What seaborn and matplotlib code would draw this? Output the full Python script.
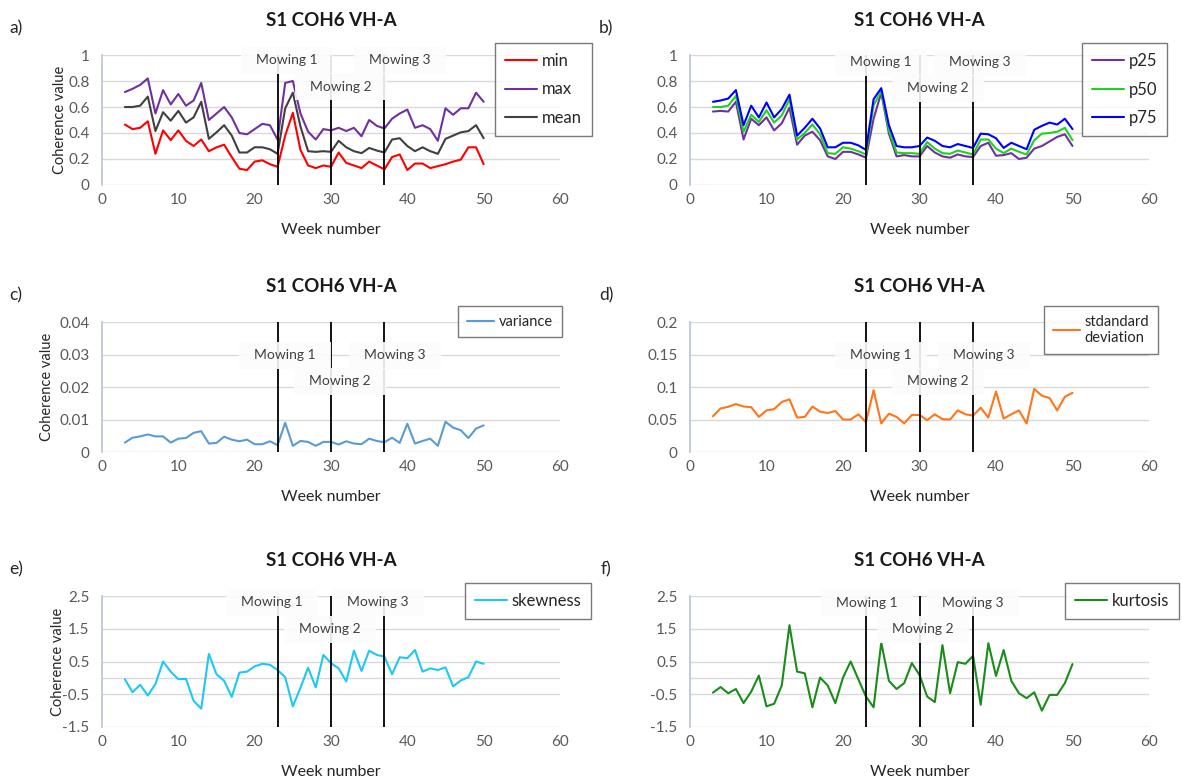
import numpy as np
import matplotlib.pyplot as plt
import seaborn as sns
import pandas as pd
from matplotlib.patches import Rectangle

sns.set_theme(style="white")
plt.rcParams['font.family'] = ['Lato', 'DejaVu Sans']

# Datos (semanas 3 a 50)
weeks = list(range(3, 51))

min_vals = [0.465, 0.43, 0.44, 0.49, 0.24, 0.42, 0.345, 0.42, 0.34, 0.30, 0.35, 0.26,
            0.29, 0.31, 0.215, 0.125, 0.115, 0.18, 0.19, 0.16, 0.14, 0.38, 0.555,
            0.27, 0.15, 0.13, 0.15, 0.14, 0.25, 0.17, 0.15, 0.13, 0.18, 0.15, 0.12,
            0.215, 0.235, 0.115, 0.165, 0.165, 0.13, 0.145, 0.16, 0.18, 0.195, 0.29, 0.29, 0.16]
max_vals = [0.715, 0.74, 0.77, 0.82, 0.55, 0.73, 0.62, 0.70, 0.61, 0.65, 0.785, 0.50,
            0.55, 0.60, 0.52, 0.40, 0.39, 0.43, 0.47, 0.46, 0.35, 0.785, 0.80,
            0.55, 0.41, 0.35, 0.43, 0.42, 0.44, 0.415, 0.44, 0.375, 0.50, 0.455, 0.435,
            0.51, 0.55, 0.58, 0.44, 0.46, 0.43, 0.34, 0.59, 0.54, 0.59, 0.59, 0.71, 0.64]
mean_vals = [0.60, 0.60, 0.61, 0.68, 0.415, 0.56, 0.495, 0.57, 0.48, 0.52, 0.64, 0.355,
             0.405, 0.46, 0.38, 0.25, 0.25, 0.29, 0.29, 0.275, 0.24, 0.59, 0.71,
             0.45, 0.26, 0.255, 0.26, 0.255, 0.34, 0.29, 0.26, 0.245, 0.285, 0.265, 0.25,
             0.35, 0.36, 0.30, 0.26, 0.29, 0.26, 0.24, 0.355, 0.38, 0.405, 0.415, 0.46, 0.36]

p25 = [0.565, 0.57, 0.565, 0.64, 0.35, 0.51, 0.46, 0.52, 0.42, 0.475, 0.595, 0.31,
       0.38, 0.41, 0.345, 0.22, 0.20, 0.255, 0.255, 0.235, 0.21, 0.51, 0.71,
       0.395, 0.22, 0.23, 0.22, 0.22, 0.30, 0.25, 0.22, 0.21, 0.235, 0.22, 0.215,
       0.30, 0.325, 0.225, 0.23, 0.245, 0.20, 0.21, 0.28, 0.30, 0.335, 0.37, 0.39, 0.30]
p50 = [0.60, 0.60, 0.61, 0.685, 0.41, 0.54, 0.485, 0.575, 0.48, 0.535, 0.66, 0.35,
       0.40, 0.465, 0.39, 0.245, 0.24, 0.29, 0.28, 0.26, 0.235, 0.615, 0.72,
       0.42, 0.25, 0.245, 0.245, 0.24, 0.33, 0.28, 0.245, 0.24, 0.265, 0.25, 0.235,
       0.35, 0.35, 0.28, 0.245, 0.28, 0.255, 0.235, 0.345, 0.395, 0.40, 0.41, 0.44, 0.345]
p75 = [0.64, 0.65, 0.665, 0.73, 0.46, 0.61, 0.52, 0.635, 0.52, 0.585, 0.695, 0.38,
       0.44, 0.51, 0.435, 0.29, 0.29, 0.325, 0.325, 0.305, 0.27, 0.66, 0.745,
       0.46, 0.30, 0.29, 0.29, 0.30, 0.365, 0.34, 0.30, 0.29, 0.315, 0.30, 0.285,
       0.395, 0.39, 0.36, 0.285, 0.325, 0.30, 0.275, 0.425, 0.455, 0.48, 0.465, 0.51, 0.43]

variance = [0.0029, 0.0044, 0.0048, 0.0054, 0.0048, 0.0048, 0.0029, 0.0041, 0.0043, 0.0059,
            0.0064, 0.0026, 0.0028, 0.0047, 0.0038, 0.0033, 0.0038, 0.0024, 0.0024, 0.0033,
            0.0021, 0.0090, 0.0019,
            0.0034, 0.0031, 0.0019, 0.0031, 0.0031, 0.0023, 0.0033, 0.0026, 0.0024, 0.0041,
            0.0034, 0.0030, 0.0044, 0.0028, 0.0087, 0.0026, 0.0034, 0.0041, 0.0019, 0.0093,
            0.0075, 0.0067, 0.0043, 0.0072, 0.0082]
std_dev = [0.055, 0.067, 0.0696, 0.0737, 0.070, 0.069, 0.054, 0.064, 0.066, 0.077, 0.081,
           0.053, 0.054, 0.070, 0.062, 0.060, 0.063, 0.050, 0.050, 0.058, 0.046, 0.095, 0.044,
           0.059, 0.054, 0.044, 0.057, 0.057, 0.049, 0.058, 0.0505, 0.050, 0.064, 0.058, 0.056,
           0.068, 0.053, 0.093, 0.0515, 0.058, 0.064, 0.044, 0.097, 0.0866, 0.083, 0.064,
           0.085, 0.091]

skewness = [-0.04, -0.44, -0.21, -0.54, -0.19, 0.50, 0.19, -0.04, -0.03, -0.70, -0.94, 0.73,
            0.11, -0.09, -0.58, 0.16, 0.19, 0.35, 0.43, 0.40, 0.24, 0.02, -0.87,
            -0.30, 0.31, -0.29, 0.70, 0.45, 0.29, -0.11, 0.83, 0.21, 0.83, 0.70, 0.65,
            0.11, 0.63, 0.60, 0.85, 0.19, 0.29, 0.24, 0.32, -0.26, -0.08, 0.02, 0.50, 0.43]
kurtosis = [-0.45, -0.28, -0.47, -0.34, -0.77, -0.42, 0.07, -0.87, -0.79, -0.23, 1.61, 0.19,
            0.14, -0.90, 0.01, -0.23, -0.77, 0.01, 0.50, -0.04, -0.57, -0.90, 1.08,
            -0.09, -0.34, -0.16, 0.45, 0.09, -0.57, -0.74, 1.00, -0.47, 0.48, 0.43, 0.67,
            -0.82, 1.06, 0.06, 0.85, -0.09, -0.47, -0.62, -0.44, -1.00, -0.52, -0.52, -0.16, 0.42]

mowing_weeks = [23, 30, 37]
mowing_labels = ["Mowing 1", "Mowing 2", "Mowing 3"]

W, H = 1182, 780
fig = plt.figure(figsize=(W / 100, H / 100), dpi=100)

GRID = '#d9d9d9'
TXT = '#595959'


def px(x, y):
    return x / W, 1 - y / H


def make_ax(l, t, r, b):
    return fig.add_axes([l / W, 1 - b / H, (r - l) / W, (b - t) / H])


paneles = [
    # letra, caja ejes, series, yticks, ylim, posiciones mowing (fraccion ejes), leyenda, x del ylabel
    ("a)", (102, 55, 560, 185),
     [("min", min_vals, '#ff0000'), ("max", max_vals, '#7030a0'), ("mean", mean_vals, '#404040')],
     [0, 0.2, 0.4, 0.6, 0.8, 1], ["0", "0.2", "0.4", "0.6", "0.8", "1"], (0, 1),
     [(0.404, 0.96), (0.522, 0.754), (0.651, 0.96)], (495, 43), 12, 60),
    ("b)", (690, 55, 1149, 185),
     [("p25", p25, '#7030a0'), ("p50", p50, '#1ed21e'), ("p75", p75, '#0000ff')],
     [0, 0.2, 0.4, 0.6, 0.8, 1], ["0", "0.2", "0.4", "0.6", "0.8", "1"], (0, 1),
     [(0.416, 0.946), (0.54, 0.746), (0.632, 0.946)], (1082, 43), 12, None),
    ("c)", (102, 322, 560, 452),
     [("variance", variance, '#5b9bd5')],
     [0, 0.01, 0.02, 0.03, 0.04], ["0", "0.01", "0.02", "0.03", "0.04"], (0, 0.04),
     [(0.40, 0.746), (0.52, 0.546), (0.64, 0.746)], (458, 306), 10.5, 47),
    ("d)", (690, 322, 1149, 452),
     [("stdandard\ndeviation", std_dev, '#ff7518')],
     [0, 0.05, 0.1, 0.15, 0.2], ["0", "0.05", "0.1", "0.15", "0.2"], (0, 0.2),
     [(0.416, 0.746), (0.54, 0.546), (0.64, 0.746)], (1044, 306), 10.5, None),
    ("e)", (102, 596, 560, 727),
     [("skewness", skewness, '#1ec8f5')],
     [-1.5, -0.5, 0.5, 1.5, 2.5], ["-1.5", "-0.5", "0.5", "1.5", "2.5"], (-1.5, 2.5),
     [(0.371, 0.954), (0.498, 0.748), (0.603, 0.954)], (465, 583), 12, 58),
    ("f)", (690, 596, 1149, 727),
     [("kurtosis", kurtosis, '#1a8c1a')],
     [-1.5, -0.5, 0.5, 1.5, 2.5], ["-1.5", "-0.5", "0.5", "1.5", "2.5"], (-1.5, 2.5),
     [(0.386, 0.947), (0.508, 0.748), (0.617, 0.947)], (1065, 583), 12, None),
]

for letra, caja, series, yt, ytl, ylim, mpos, legpos, legfs, ylab_x in paneles:
    l, t, r, b = caja
    ax = make_ax(l, t, r, b)
    for nombre, vals, col in series:
        df = pd.DataFrame({"Week": weeks, "Value": vals})
        sns.lineplot(data=df, x="Week", y="Value", ax=ax, color=col, lw=1.5, label=nombre, zorder=2)

    ax.set_xlim(0, 60)
    ax.set_ylim(*ylim)
    ax.set_xticks([0, 10, 20, 30, 40, 50, 60])
    ax.set_yticks(yt)
    ax.set_yticklabels(ytl)
    ax.tick_params(axis='both', length=0, labelsize=11, colors=TXT)
    ax.tick_params(axis='x', pad=6)
    ax.tick_params(axis='y', pad=9)
    ax.set_xlabel("")
    ax.set_ylabel("")
    ax.yaxis.grid(True, color=GRID, lw=1)
    ax.xaxis.grid(False)
    if ylim[0] < 0:
        ax.axhline(0, color=GRID, lw=1, zorder=0)
    for s in ['top', 'right', 'bottom']:
        ax.spines[s].set_visible(False)
    ax.spines['left'].set_color('#b8c4d6')
    ax.spines['left'].set_linewidth(1.2)

    for w in mowing_weeks:
        ax.axvline(w, color='black', lw=1.3, zorder=3)
    bw = 92 / (r - l)
    bh = 27 / (b - t)
    for (fx, fy), txt in zip(mpos, mowing_labels):
        ax.add_patch(Rectangle((fx - bw / 2, fy - bh / 2), bw, bh, transform=ax.transAxes,
                               fc='#fcfcfc', ec='none', alpha=0.9, zorder=4, clip_on=False))
        ax.text(fx, fy, txt, transform=ax.transAxes, ha='center', va='center',
                fontsize=10, color='#404040', zorder=5)

    leg = ax.legend(loc='upper left', bbox_to_anchor=px(*legpos), bbox_transform=fig.transFigure,
                    borderaxespad=0, frameon=True, fancybox=False, fontsize=legfs,
                    handlelength=1.9, handletextpad=0.3, labelspacing=0.75,
                    borderpad=0.6, edgecolor='#595959')
    leg.get_frame().set_linewidth(1.0)
    leg.set_zorder(10)
    for txt in leg.get_texts():
        txt.set_color('#262626')

    cx = (l + r) / 2
    fig.text(*px(cx, t - 35), "S1 COH6 VH-A", ha='center', va='center',
             fontsize=13.5, fontweight='bold', color='#1a1a1a')
    fig.text(*px(cx, b + 45), "Week number", ha='center', va='center', fontsize=11.5, color='#262626')
    if ylab_x is not None:
        fig.text(*px(ylab_x, (t + b) / 2), "Coherence value", ha='center', va='center',
                 rotation=90, fontsize=10.5, color='#262626')
        fig.text(*px(16, t - 27), letra, ha='center', va='center', fontsize=12.5, color='#262626')
    else:
        fig.text(*px(606, t - 27), letra, ha='center', va='center', fontsize=12.5, color='#262626')

fig.savefig("out.png", dpi=100)
